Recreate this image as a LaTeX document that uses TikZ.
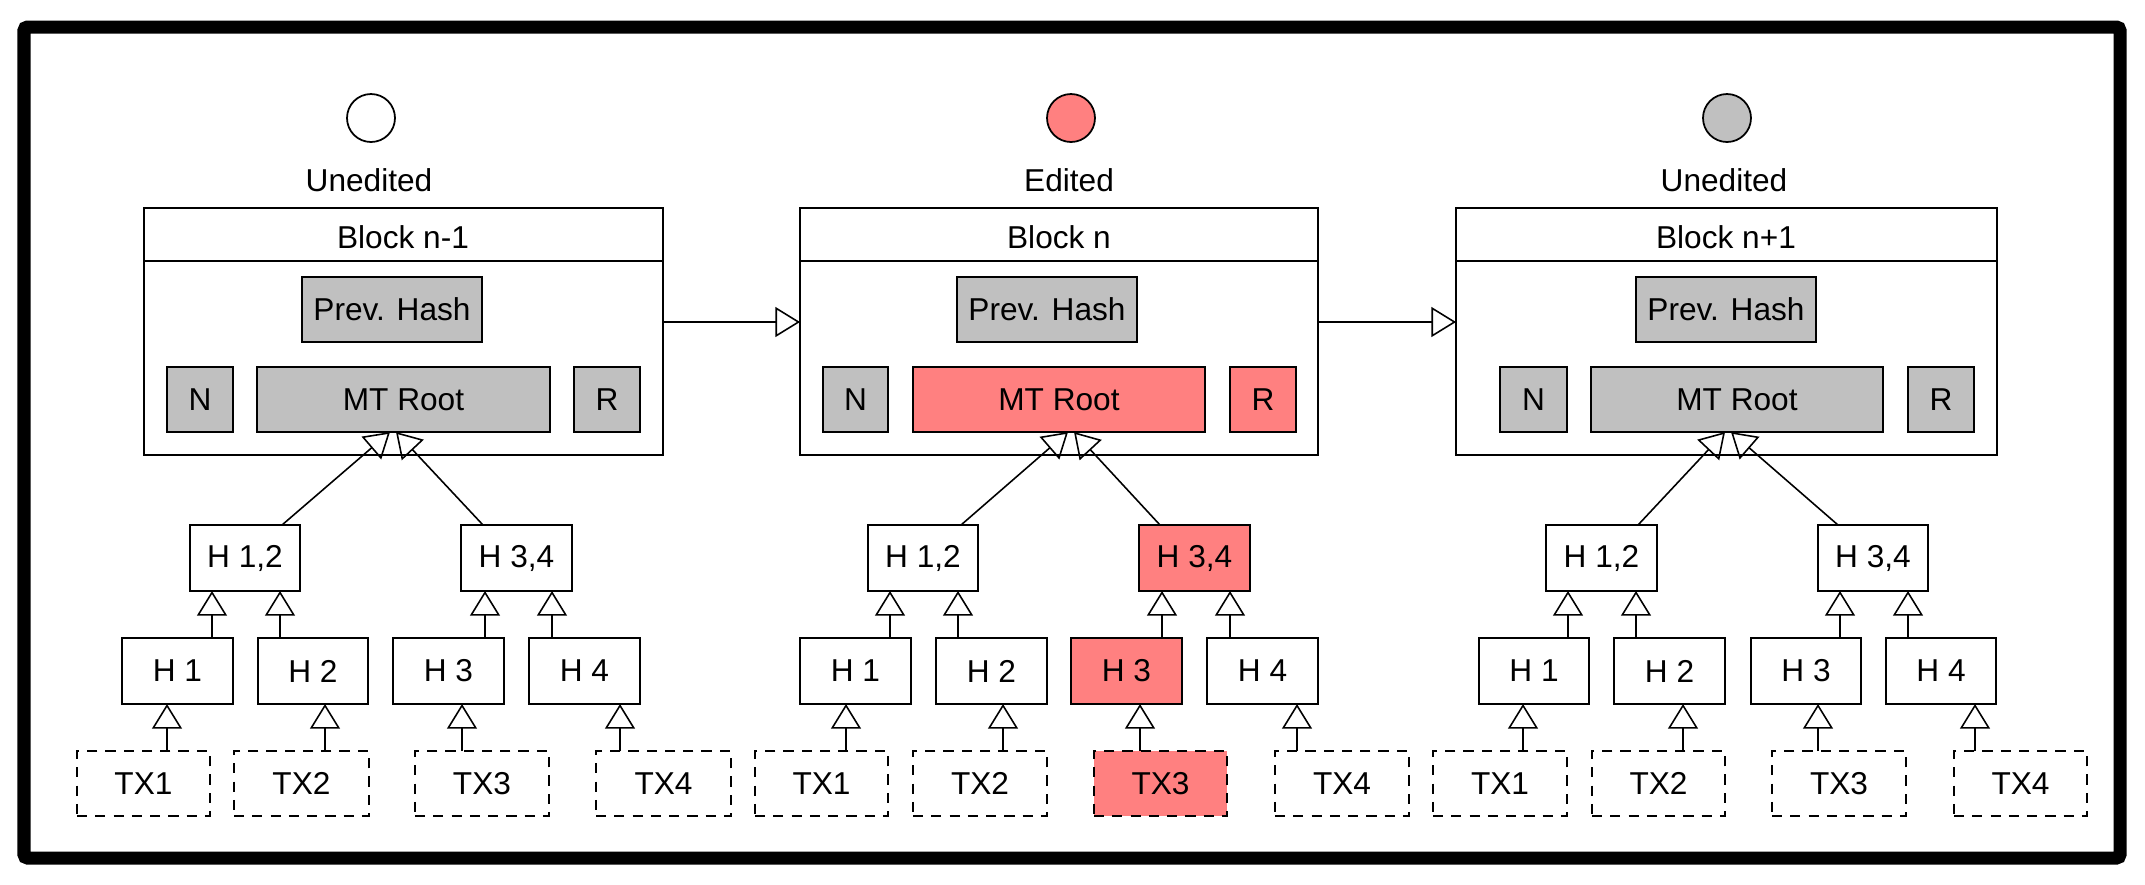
\documentclass[tikz,border=0pt]{standalone}
\usepackage{fontspec}
\setmainfont{Liberation Sans}
\usetikzlibrary{arrows.meta}
\definecolor{gr}{HTML}{C0C0C0}
\definecolor{rd}{HTML}{FF8080}
\def\u{0.2845pt}
\newcommand\bx[7]{\node[#6, minimum width={(#3-#2)*\u}, minimum height={(#5-#4)*\u}] (#1) at ({(#2+#3)/2},{(#4+#5)/2}) {#7};}
\begin{document}
\begin{tikzpicture}[x=0.1mm,y=-0.1mm,
  font=\fontsize{9pt}{11pt}\selectfont,
  base/.style={draw, line width=0.55pt, inner sep=0pt, outer sep=0pt},
  blk/.style={base, fill=white},
  g/.style={base, fill=gr},
  r/.style={base, fill=rd},
  w/.style={base, fill=white},
  tx/.style={base, dash pattern=on 2.9pt off 2.3pt},
  txr/.style={tx, fill=rd},
  hs/.style={line width=0.45pt, -{Triangle[open,length=7pt,width=8.5pt]}},
  dot/.style={circle, draw, line width=0.5pt, minimum size={48*\u}, inner sep=0pt},
  lbl/.style={inner sep=0pt}]
\useasboundingbox (0,0) rectangle (2145,884);
\fill[white] (0,0) rectangle (2145,884);
\draw[line width=3.7pt, rounded corners=1pt] (24,27) rectangle (2120,858);

% ---------- panel 1 ----------
\node[dot, fill=white] (c1) at (371,118) {};
\node[lbl] (s1) at (369,180) {Unedited};
\bx{blk1}{144}{663}{208}{455}{blk}{}
\draw[line width=0.55pt] (blk1.west |- 0,261) -- (blk1.east |- 0,261);
\node[lbl] (t1) at (403,237) {Block n-1};
\bx{prev1}{302}{482}{277}{342}{g}{Prev. Hash}
\bx{n1}{167}{233}{367}{432}{g}{N}
\bx{mt1}{257}{550}{367}{432}{g}{MT Root}
\bx{r1}{574}{640}{367}{432}{g}{R}
\bx{ha1}{190}{300}{525}{591}{w}{H 1,2}
\bx{hb1}{461}{572}{525}{591}{w}{H 3,4}
\bx{h11}{122}{233}{638}{704}{w}{H 1}
\bx{h21}{258}{368}{638}{704}{w}{H 2}
\bx{h31}{393}{504}{638}{704}{w}{H 3}
\bx{h41}{529}{640}{638}{704}{w}{H 4}
\bx{x11}{77}{210}{751}{816}{tx}{TX1}
\bx{x21}{234}{369}{751}{816}{tx}{TX2}
\bx{x31}{415}{549}{751}{816}{tx}{TX3}
\bx{x41}{596}{731}{751}{816}{tx}{TX4}
\draw[hs] (ha1.north -| 282,0) -- (mt1.south -| 390,0);
\draw[hs] (hb1.north -| 483,0) -- (mt1.south -| 396,0);
\draw[hs] (h11.north -| 212,0) -- (ha1.south -| 212,0);
\draw[hs] (h21.north -| 280,0) -- (ha1.south -| 280,0);
\draw[hs] (h31.north -| 485,0) -- (hb1.south -| 485,0);
\draw[hs] (h41.north -| 552,0) -- (hb1.south -| 552,0);
\draw[hs] (x11.north -| 167,0) -- (h11.south -| 167,0);
\draw[hs] (x21.north -| 325,0) -- (h21.south -| 325,0);
\draw[hs] (x31.north -| 462,0) -- (h31.south -| 462,0);
\draw[hs] (x41.north -| 620,0) -- (h41.south -| 620,0);

% ---------- panel 2 ----------
\node[dot, fill=rd] (c2) at (1071,118) {};
\node[lbl] (s2) at (1069,180) {Edited};
\bx{blk2}{800}{1318}{208}{455}{blk}{}
\draw[line width=0.55pt] (blk2.west |- 0,261) -- (blk2.east |- 0,261);
\node[lbl] (t2) at (1059,237) {Block n};
\bx{prev2}{957}{1137}{277}{342}{g}{Prev. Hash}
\bx{n2}{823}{888}{367}{432}{g}{N}
\bx{mt2}{913}{1205}{367}{432}{r}{MT Root}
\bx{r2}{1230}{1296}{367}{432}{r}{R}
\bx{ha2}{868}{978}{525}{591}{w}{H 1,2}
\bx{hb2}{1139}{1250}{525}{591}{r}{H 3,4}
\bx{h12}{800}{911}{638}{704}{w}{H 1}
\bx{h22}{936}{1047}{638}{704}{w}{H 2}
\bx{h32}{1071}{1182}{638}{704}{r}{H 3}
\bx{h42}{1207}{1318}{638}{704}{w}{H 4}
\bx{x12}{755}{888}{751}{816}{tx}{TX1}
\bx{x22}{913}{1047}{751}{816}{tx}{TX2}
\bx{x32}{1094}{1227}{751}{816}{txr}{TX3}
\bx{x42}{1275}{1409}{751}{816}{tx}{TX4}
\draw[hs] (ha2.north -| 961,0) -- (mt2.south -| 1068,0);
\draw[hs] (hb2.north -| 1160,0) -- (mt2.south -| 1074,0);
\draw[hs] (h12.north -| 890,0) -- (ha2.south -| 890,0);
\draw[hs] (h22.north -| 958,0) -- (ha2.south -| 958,0);
\draw[hs] (h32.north -| 1162,0) -- (hb2.south -| 1162,0);
\draw[hs] (h42.north -| 1230,0) -- (hb2.south -| 1230,0);
\draw[hs] (x12.north -| 846,0) -- (h12.south -| 846,0);
\draw[hs] (x22.north -| 1003,0) -- (h22.south -| 1003,0);
\draw[hs] (x32.north -| 1140,0) -- (h32.south -| 1140,0);
\draw[hs] (x42.north -| 1297,0) -- (h42.south -| 1297,0);

% ---------- panel 3 ----------
\node[dot, fill=gr] (c3) at (1727,118) {};
\node[lbl] (s3) at (1724,180) {Unedited};
\bx{blk3}{1456}{1997}{208}{455}{blk}{}
\draw[line width=0.55pt] (blk3.west |- 0,261) -- (blk3.east |- 0,261);
\node[lbl] (t3) at (1726,237) {Block n+1};
\bx{prev3}{1636}{1816}{277}{342}{g}{Prev. Hash}
\bx{n3}{1500}{1567}{367}{432}{g}{N}
\bx{mt3}{1591}{1883}{367}{432}{g}{MT Root}
\bx{r3}{1908}{1974}{367}{432}{g}{R}
\bx{ha3}{1546}{1657}{525}{591}{w}{H 1,2}
\bx{hb3}{1818}{1928}{525}{591}{w}{H 3,4}
\bx{h13}{1479}{1589}{638}{704}{w}{H 1}
\bx{h23}{1614}{1725}{638}{704}{w}{H 2}
\bx{h33}{1751}{1861}{638}{704}{w}{H 3}
\bx{h43}{1886}{1996}{638}{704}{w}{H 4}
\bx{x13}{1433}{1567}{751}{816}{tx}{TX1}
\bx{x23}{1592}{1725}{751}{816}{tx}{TX2}
\bx{x33}{1772}{1906}{751}{816}{tx}{TX3}
\bx{x43}{1954}{2087}{751}{816}{tx}{TX4}
\draw[hs] (ha3.north -| 1638,0) -- (mt3.south -| 1725,0);
\draw[hs] (hb3.north -| 1838,0) -- (mt3.south -| 1731,0);
\draw[hs] (h13.north -| 1568,0) -- (ha3.south -| 1568,0);
\draw[hs] (h23.north -| 1636,0) -- (ha3.south -| 1636,0);
\draw[hs] (h33.north -| 1840,0) -- (hb3.south -| 1840,0);
\draw[hs] (h43.north -| 1908,0) -- (hb3.south -| 1908,0);
\draw[hs] (x13.north -| 1523,0) -- (h13.south -| 1523,0);
\draw[hs] (x23.north -| 1683,0) -- (h23.south -| 1683,0);
\draw[hs] (x33.north -| 1818,0) -- (h33.south -| 1818,0);
\draw[hs] (x43.north -| 1975,0) -- (h43.south -| 1975,0);

% ---------- chain ----------
\draw[hs] (blk1.east |- 0,322) -- (blk2.west |- 0,322);
\draw[hs] (blk2.east |- 0,322) -- (blk3.west |- 0,322);
\end{tikzpicture}
\end{document}
